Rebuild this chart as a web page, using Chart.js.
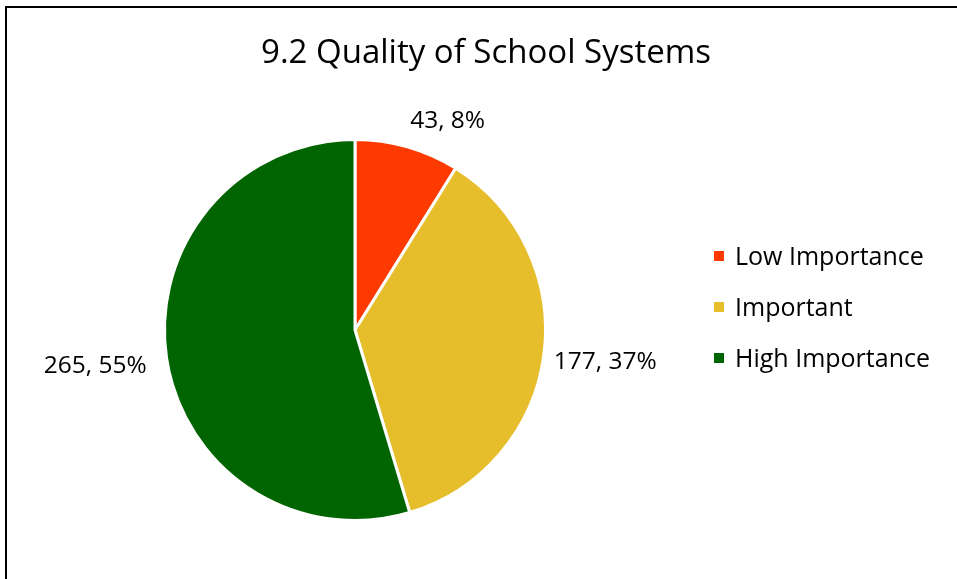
<!DOCTYPE html>
<html>
<head>
<meta charset="utf-8">
<script src="https://cdn.jsdelivr.net/npm/chart.js@4"></script>
<style>
  html, body { margin: 0; padding: 0; background: #fff; overflow: hidden; }
  #wrap { position: relative; width: 957px; height: 579px; }
  #frame { position: absolute; left: 5px; top: 6px; width: 1000px; height: 700px;
           border-top: 2px solid #000; border-left: 2px solid #000; pointer-events: none; }
  canvas { position: absolute; left: 0; top: 0; }
</style>
</head>
<body>
<div id="wrap">
  <canvas id="pie" width="957" height="579"></canvas>
  <div id="frame"></div>
</div>
<script>
// data
const chartTitle = "9.2 Quality of School Systems";
const categories = ["Low Importance", "Important", "High Importance"];
const counts = [43, 177, 265];
const percents = [8, 37, 55];
const colors = ["#FF3A00", "#E6BD2B", "#006400"];

const FONT = "'Open Sans', Lato, sans-serif";

// titulo, legenda e rotulos desenhados por cima
const extras = {
  id: "extras",
  afterDraw(chart) {
    const c = chart.ctx;
    c.save();
    c.fillStyle = "#000";

    // titulo
    c.font = "33px " + FONT;
    c.textAlign = "center";
    c.textBaseline = "alphabetic";
    c.fillText(chartTitle, 486, 63);

    // rotulos das fatias
    c.font = "24.5px " + FONT;
    const arcs = chart.getDatasetMeta(0).data;
    arcs.forEach((arc, i) => {
      const p = arc.getProps(["x", "y", "startAngle", "endAngle", "outerRadius"], true);
      const mid = (p.startAngle + p.endAngle) / 2;
      const cs = Math.cos(mid), sn = Math.sin(mid);
      const r = p.outerRadius + (cs < -0.2 ? 20 : 10);
      const x = p.x + cs * r;
      const y = p.y + sn * r;
      c.textAlign = cs > 0.2 ? "left" : (cs < -0.2 ? "right" : "center");
      c.textBaseline = sn < -0.5 ? "bottom" : "middle";
      c.fillText(counts[i] + ", " + percents[i] + "%", x, y + (sn < -0.5 ? -4 : 5));
    });

    // legenda
    c.font = "25px " + FONT;
    c.textAlign = "left";
    c.textBaseline = "middle";
    categories.forEach((name, i) => {
      const y = 256 + i * 51;
      c.fillStyle = colors[i];
      c.fillRect(714, y - 5, 10, 10);
      c.fillStyle = "#000";
      c.fillText(name, 735, y + 2);
    });
    c.restore();
  }
};

new Chart(document.getElementById("pie"), {
  type: "pie",
  data: {
    labels: categories,
    datasets: [{
      data: counts,
      backgroundColor: colors,
      borderColor: "#fff",
      borderWidth: 3
    }]
  },
  options: {
    responsive: false,
    devicePixelRatio: 1,
    animation: false,
    layout: { padding: { top: 138, bottom: 57, left: 163, right: 410 } },
    plugins: { legend: { display: false }, title: { display: false }, tooltip: { enabled: false } }
  },
  plugins: [extras]
});
</script>
</body>
</html>
